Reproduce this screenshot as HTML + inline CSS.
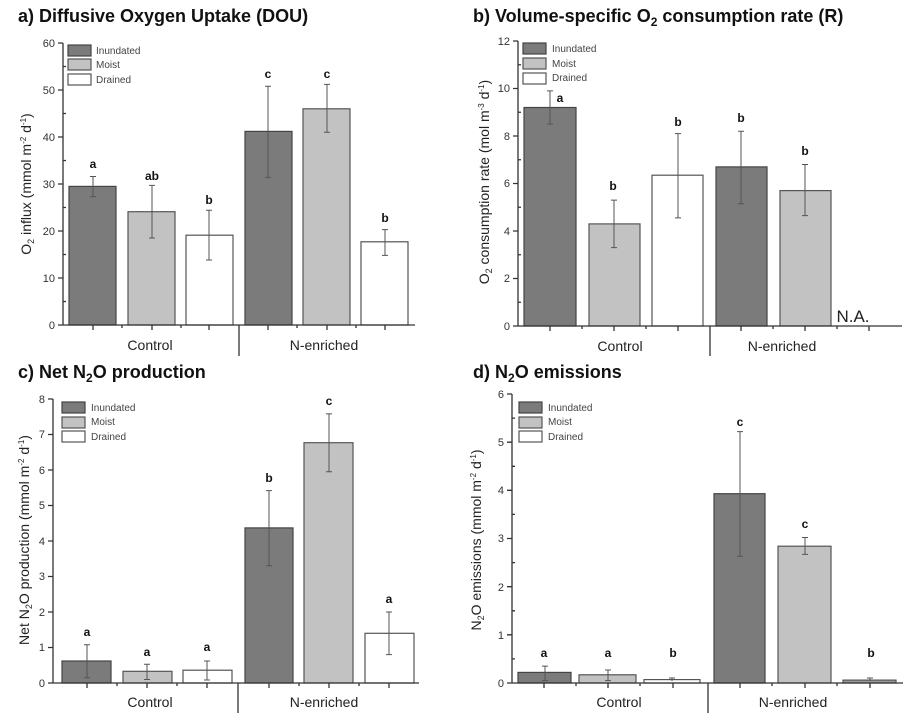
<!DOCTYPE html>
<html><head><meta charset="utf-8"><style>
html,body{margin:0;padding:0;background:#fff;width:915px;height:715px;overflow:hidden}
svg{display:block}
text{font-family:"Liberation Sans",sans-serif;fill:#222}
.t{font-size:18px;font-weight:bold;fill:#111}
.tk{font-size:11px;text-anchor:end;fill:#333}
.lg{font-size:10px;fill:#444}
.yl{font-size:14px;text-anchor:middle;fill:#222}
.cat{font-size:14px;text-anchor:middle;fill:#222}
.sig{font-size:12px;font-weight:bold;text-anchor:middle;fill:#111}
.ax{stroke:#333;stroke-width:1.3;fill:none}
.e{stroke:#555;stroke-width:1;fill:none}
.d{fill:#7b7b7b;stroke:#444;stroke-width:1.2}
.m{fill:#c2c2c2;stroke:#555;stroke-width:1.2}
.w{fill:#fff;stroke:#555;stroke-width:1.2}
.g{fill:#9a9a9a;stroke:#555;stroke-width:1.2}
</style></head><body>
<svg width="915" height="715" viewBox="0 0 915 715" xmlns="http://www.w3.org/2000/svg">

<!-- ================= Panel a ================= -->
<text class="t" x="18" y="22">a) Diffusive Oxygen Uptake (DOU)</text>
<rect class="d" x="69" y="186.4" width="47" height="138.6"/>
<rect class="m" x="128" y="211.7" width="47" height="113.3"/>
<rect class="w" x="186" y="235.2" width="47" height="89.8"/>
<rect class="d" x="245" y="131.4" width="47" height="193.6"/>
<rect class="m" x="303" y="108.8" width="47" height="216.2"/>
<rect class="w" x="361" y="241.8" width="47" height="83.2"/>
<path class="e" d="M93 196.7V176.5M90 176.5h6M90 196.7h6 M152 238V185.4M149 185.4h6M149 238h6 M209 260V210.3M206 210.3h6M206 260h6 M268 177.4V86.2M265 86.2h6M265 177.4h6 M327 132.3V84.4M324 84.4h6M324 132.3h6 M385 255.4V229.6M382 229.6h6M382 255.4h6"/>
<text class="sig" x="93" y="168">a</text><text class="sig" x="152" y="180">ab</text><text class="sig" x="209" y="204">b</text>
<text class="sig" x="268" y="78">c</text><text class="sig" x="327" y="78">c</text><text class="sig" x="385" y="222">b</text>
<path class="ax" d="M63 43V325H415 M58 43h5M58 90h5M58 137h5M58 184h5M58 231h5M58 278h5M58 325h5 M63 66.5h3M63 113.5h3M63 160.5h3M63 207.5h3M63 254.5h3M63 301.5h3 M93 325v5M152 325v5M209 325v5M268 325v5M327 325v5M385 325v5 M122 325v3M181 325v3M297 325v3M356 325v3M239 325v31"/>
<text class="tk" x="55" y="47">60</text><text class="tk" x="55" y="94">50</text><text class="tk" x="55" y="141">40</text><text class="tk" x="55" y="188">30</text><text class="tk" x="55" y="235">20</text><text class="tk" x="55" y="282">10</text><text class="tk" x="55" y="329">0</text>
<text class="yl" transform="translate(31,184) rotate(-90)">O<tspan font-size="9" dy="3">2</tspan><tspan dy="-3"> influx (mmol m</tspan><tspan font-size="8" dy="-5">-2</tspan><tspan dy="5"> d</tspan><tspan font-size="8" dy="-5">-1</tspan><tspan dy="5">)</tspan></text>
<text class="cat" x="150" y="350">Control</text><text class="cat" x="324" y="350">N-enriched</text>
<rect class="d" x="68" y="45" width="23" height="11"/><rect class="m" x="68" y="59" width="23" height="11"/><rect class="w" x="68" y="74" width="23" height="11"/>
<text class="lg" x="96" y="54">Inundated</text><text class="lg" x="96" y="68">Moist</text><text class="lg" x="96" y="83">Drained</text>

<!-- ================= Panel b ================= -->
<text class="t" x="473" y="22">b) Volume-specific O<tspan font-size="12" dy="4">2</tspan><tspan dy="-4"> consumption rate (R)</tspan></text>
<rect class="d" x="524" y="107.5" width="52" height="218.5"/>
<rect class="m" x="589" y="223.9" width="51" height="102.1"/>
<rect class="w" x="652" y="175.2" width="51" height="150.8"/>
<rect class="d" x="716" y="166.9" width="51" height="159.1"/>
<rect class="m" x="780" y="190.6" width="51" height="135.4"/>
<path class="e" d="M550 124.1V90.9M547 90.9h6M547 124.1h6 M614 247.6V200.1M611 200.1h6M611 247.6h6 M678 217.9V133.6M675 133.6h6M675 217.9h6 M741 203.7V131.3M738 131.3h6M738 203.7h6 M805 215.6V164.5M802 164.5h6M802 215.6h6"/>
<text class="sig" x="560" y="102">a</text><text class="sig" x="613" y="190">b</text><text class="sig" x="678" y="126">b</text><text class="sig" x="741" y="122">b</text><text class="sig" x="805" y="155">b</text>
<text x="853" y="322" style="font-size:17px;text-anchor:middle;fill:#222">N.A.</text>
<path class="ax" d="M518 41V326H902 M513 41h5M513 88.5h5M513 136h5M513 183.5h5M513 231h5M513 278.5h5M513 326h5 M518 64.75h3M518 112.25h3M518 159.75h3M518 207.25h3M518 254.75h3M518 302.25h3 M550 326v5M614 326v5M678 326v5M741 326v5M805 326v5M869 326v5 M582 326v3M646 326v3M773 326v3M837 326v3M710 326v30"/>
<text class="tk" x="510" y="45">12</text><text class="tk" x="510" y="92">10</text><text class="tk" x="510" y="140">8</text><text class="tk" x="510" y="187">6</text><text class="tk" x="510" y="235">4</text><text class="tk" x="510" y="282">2</text><text class="tk" x="510" y="330">0</text>
<text class="yl" transform="translate(489,182) rotate(-90)">O<tspan font-size="9" dy="3">2</tspan><tspan dy="-3"> consumption rate (mol m</tspan><tspan font-size="8" dy="-5">-3</tspan><tspan dy="5"> d</tspan><tspan font-size="8" dy="-5">-1</tspan><tspan dy="5">)</tspan></text>
<text class="cat" x="620" y="351">Control</text><text class="cat" x="782" y="351">N-enriched</text>
<rect class="d" x="523" y="43" width="23" height="11"/><rect class="m" x="523" y="58" width="23" height="11"/><rect class="w" x="523" y="73" width="23" height="11"/>
<text class="lg" x="552" y="52">Inundated</text><text class="lg" x="552" y="67">Moist</text><text class="lg" x="552" y="81">Drained</text>

<!-- ================= Panel c ================= -->
<text class="t" x="18" y="378">c) Net N<tspan font-size="12" dy="4">2</tspan><tspan dy="-4">O production</tspan></text>
<rect class="d" x="62" y="661" width="49" height="22"/>
<rect class="m" x="123" y="671.3" width="49" height="11.7"/>
<rect class="w" x="183" y="670.2" width="49" height="12.8"/>
<rect class="d" x="245" y="527.9" width="48" height="155.1"/>
<rect class="m" x="304" y="442.7" width="49" height="240.3"/>
<rect class="w" x="365" y="633.3" width="49" height="49.7"/>
<path class="e" d="M87 677.7V644.7M84 644.7h6M84 677.7h6 M147 679.5V664.2M144 664.2h6M144 679.5h6 M207 680V661M204 661h6M204 680h6 M269 565.8V490.6M266 490.6h6M266 565.8h6 M329 471.8V413.9M326 413.9h6M326 471.8h6 M389 654.6V612M386 612h6M386 654.6h6"/>
<text class="sig" x="87" y="636">a</text><text class="sig" x="147" y="656">a</text><text class="sig" x="207" y="651">a</text><text class="sig" x="269" y="482">b</text><text class="sig" x="329" y="405">c</text><text class="sig" x="389" y="603">a</text>
<path class="ax" d="M53 399V683H419 M48 399h5M48 434.5h5M48 470h5M48 505.5h5M48 541h5M48 576.5h5M48 612h5M48 647.5h5M48 683h5 M87 683v5M147 683v5M207 683v5M269 683v5M329 683v5M389 683v5 M117 683v3M177 683v3M299 683v3M359 683v3M238 683v30"/>
<text class="tk" x="45" y="403">8</text><text class="tk" x="45" y="438">7</text><text class="tk" x="45" y="474">6</text><text class="tk" x="45" y="509">5</text><text class="tk" x="45" y="545">4</text><text class="tk" x="45" y="580">3</text><text class="tk" x="45" y="616">2</text><text class="tk" x="45" y="651">1</text><text class="tk" x="45" y="687">0</text>
<text class="yl" transform="translate(29,540) rotate(-90)">Net N<tspan font-size="9" dy="3">2</tspan><tspan dy="-3">O production (mmol m</tspan><tspan font-size="8" dy="-5">-2</tspan><tspan dy="5"> d</tspan><tspan font-size="8" dy="-5">-1</tspan><tspan dy="5">)</tspan></text>
<text class="cat" x="150" y="707">Control</text><text class="cat" x="324" y="707">N-enriched</text>
<rect class="d" x="62" y="402" width="23" height="11"/><rect class="m" x="62" y="417" width="23" height="11"/><rect class="w" x="62" y="431" width="23" height="11"/>
<text class="lg" x="91" y="411">Inundated</text><text class="lg" x="91" y="425">Moist</text><text class="lg" x="91" y="440">Drained</text>

<!-- ================= Panel d ================= -->
<text class="t" x="473" y="378">d) N<tspan font-size="12" dy="4">2</tspan><tspan dy="-4">O emissions</tspan></text>
<rect class="d" x="518" y="672.4" width="53" height="10.6"/>
<rect class="m" x="579" y="674.8" width="57" height="8.2"/>
<rect class="w" x="644" y="679.6" width="56" height="3.4"/>
<rect class="d" x="714" y="493.7" width="51" height="189.3"/>
<rect class="m" x="778" y="546.2" width="53" height="136.8"/>
<rect class="g" x="843" y="680.1" width="53" height="2.9"/>
<path class="e" d="M545 680.6V666.1M542 666.1h6M542 680.6h6 M608 680.6V670M605 670h6M605 680.6h6 M672 681V678M669 678h6 M740 556.3V431.6M737 431.6h6M737 556.3h6 M805 554.4V537.5M802 537.5h6M802 554.4h6 M870 681V678M867 678h6"/>
<text class="sig" x="544" y="657">a</text><text class="sig" x="608" y="657">a</text><text class="sig" x="673" y="657">b</text><text class="sig" x="740" y="426">c</text><text class="sig" x="805" y="528">c</text><text class="sig" x="871" y="657">b</text>
<path class="ax" d="M512 394V683H903 M507 394h5M507 442.2h5M507 490.3h5M507 538.5h5M507 586.7h5M507 634.8h5M507 683h5 M512 418.1h3M512 466.3h3M512 514.4h3M512 562.6h3M512 610.8h3M512 658.9h3 M544 683v5M608 683v5M673 683v5M740 683v5M805 683v5M870 683v5 M576 683v3M640 683v3M772 683v3M837 683v3M708 683v30"/>
<text class="tk" x="504" y="398">6</text><text class="tk" x="504" y="446">5</text><text class="tk" x="504" y="494">4</text><text class="tk" x="504" y="542">3</text><text class="tk" x="504" y="591">2</text><text class="tk" x="504" y="639">1</text><text class="tk" x="504" y="687">0</text>
<text class="yl" transform="translate(481,540) rotate(-90)">N<tspan font-size="9" dy="3">2</tspan><tspan dy="-3">O emissions (mmol m</tspan><tspan font-size="8" dy="-5">-2</tspan><tspan dy="5"> d</tspan><tspan font-size="8" dy="-5">-1</tspan><tspan dy="5">)</tspan></text>
<text class="cat" x="619" y="707">Control</text><text class="cat" x="793" y="707">N-enriched</text>
<rect class="d" x="519" y="402" width="23" height="11"/><rect class="m" x="519" y="417" width="23" height="11"/><rect class="w" x="519" y="431" width="23" height="11"/>
<text class="lg" x="548" y="411">Inundated</text><text class="lg" x="548" y="425">Moist</text><text class="lg" x="548" y="440">Drained</text>
</svg>
</body></html>
